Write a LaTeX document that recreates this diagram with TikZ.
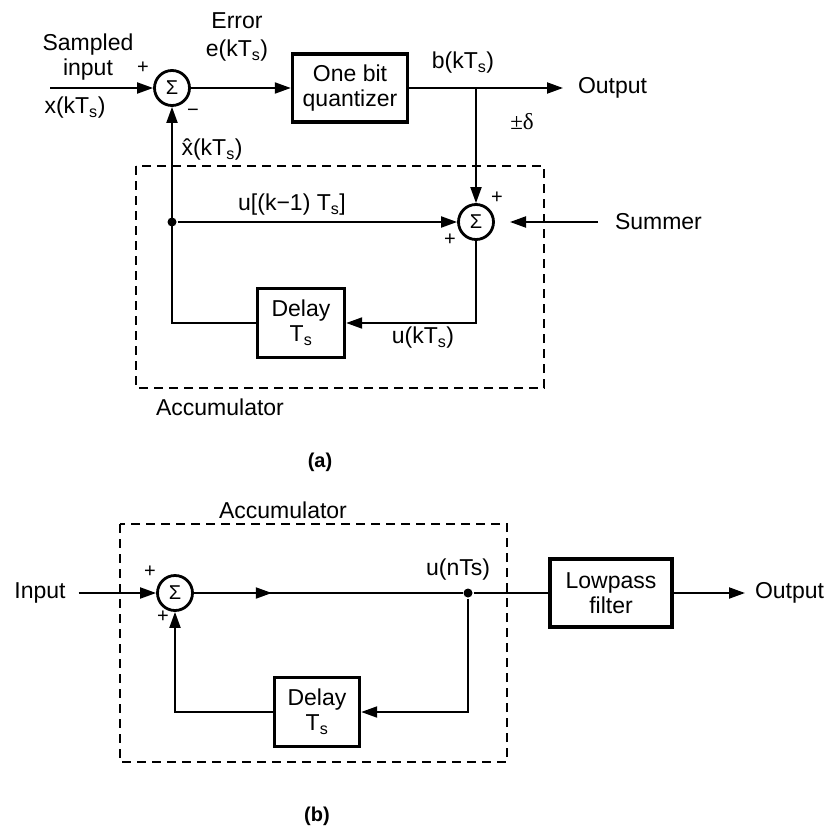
\documentclass[tikz,border=0pt]{standalone}
\usepackage{fontspec}
\setsansfont{Liberation Sans}
\newfontfamily\serifdelta{Liberation Serif}
\usetikzlibrary{arrows.meta,positioning,decorations.markings}

\begin{document}
\begin{tikzpicture}[x=1pt,y=-1pt,font=\sffamily\fontsize{23}{25}\selectfont,
  line width=2pt,
  blk/.style={draw,line width=3.4pt,align=center,inner sep=0pt},
  sumn/.style={draw,circle,line width=2.8pt,minimum size=35pt,inner sep=0pt,font=\sffamily\fontsize{20}{20}\selectfont},
  arr/.style={-{Triangle[length=16pt,width=11pt]}},
  midarr/.style={decoration={markings,mark=at position 0.29 with {\arrow{Triangle[length=16pt,width=11pt]}}},postaction={decorate}},
  acc/.style={draw,line width=2.4pt,dash pattern=on 9pt off 6pt},
  jdot/.style={circle,fill,inner sep=0pt,minimum size=9pt},
  sg/.style={font=\sffamily\fontsize{20}{20}\selectfont,inner sep=0pt},
  lbl/.style={inner sep=0pt,align=center}]
\useasboundingbox (0,0) rectangle (826,833);
% (a)
\node[sumn] (sA1) at (172,88) {Σ};
\node[blk,minimum width=115pt,minimum height=68pt] (quant) at (350,88) {One bit\\quantizer};
\coordinate (inA) at (50,88);
\coordinate (brA) at (476,88);
\node[lbl,anchor=west] (outA) at (577,88) {Output};
\node[sumn] (sA2) at (476,222) {Σ};
\node[lbl,anchor=west] (summer) at (614,222) {Summer};
\coordinate (sumtip) at (510,222);
\node[jdot] (jA) at (172,222) {};
\node[blk,minimum width=87pt,minimum height=69pt] (delA) at (301,323) {Delay\\T\textsubscript{s}};
\draw[acc] (136,166) rectangle (544,388);
\draw[arr] (inA) -- (sA1);
\draw[arr] (sA1) -- (quant);
\draw[arr,shorten >=14pt] (quant) -- (outA.west);
\draw[arr] (brA) -- (sA2);
\draw[arr] (jA) -- (sA2);
\draw[arr] (sA2) |- (delA);
\draw[arr] (delA) -| (sA1);
\draw[arr,shorten <=16pt] (summer.west) -- (sumtip);
\node[lbl] (smp) at (88,57) {Sampled\\input};
\node[lbl] (xk) at (75,108) {x(kT\textsubscript{s})};
\node[lbl] (err) at (237,37) {Error\\[3pt]e(kT\textsubscript{s})};
\node[lbl] (bk) at (463,63) {b(kT\textsubscript{s})};
\node[lbl,font=\serifdelta\fontsize{23}{25}\selectfont] (dlt) at (522,122) {±δ};
\node[lbl] (xh) at (212,150) {\^{x}(kT\textsubscript{s})};
\node[lbl] (uk1) at (292,205) {u[(k−1) T\textsubscript{s}]};
\node[lbl] (uk) at (423,338) {u(kT\textsubscript{s})};
\node[lbl] (accA) at (220,407) {Accumulator};
\node[lbl,font=\sffamily\bfseries\fontsize{20}{20}\selectfont] (capA) at (320,462) {(a)};
% (b)
\node[lbl] (inB) at (40,593) {Input};
\node[sumn] (sB1) at (175,593) {Σ};
\node[jdot] (jB) at (468,593) {};
\node[blk,minimum width=122pt,minimum height=68pt] (lpf) at (611,593) {Lowpass\\filter};
\node[lbl,anchor=west] (outB) at (754,593) {Output};
\node[blk,minimum width=85pt,minimum height=69pt] (delB) at (317,712) {Delay\\T\textsubscript{s}};
\draw[acc] (120,524) rectangle (507,762);
\draw[arr,shorten <=12pt] (inB.east) -- (sB1);
\draw[midarr] (sB1) -- (jB);
\draw (jB) -- (lpf);
\draw[arr,shorten >=9pt] (lpf) -- (outB.west);
\draw[arr] (jB) |- (delB);
\draw[arr] (delB) -| (sB1);
\node[lbl] (accB) at (283,510) {Accumulator};
\node[lbl] (un) at (458,570) {u(nTs)};
\node[lbl,font=\sffamily\bfseries\fontsize{20}{20}\selectfont] (capB) at (317,816) {(b)};
\foreach \x/\y/\s [count=\i] in {143/68/+,193/113/−,497/198/+,450/240/+,150/572/+,163/617/+}
  \node[sg] (sg\i) at (\x,\y) {\s};
\end{tikzpicture}
\end{document}
